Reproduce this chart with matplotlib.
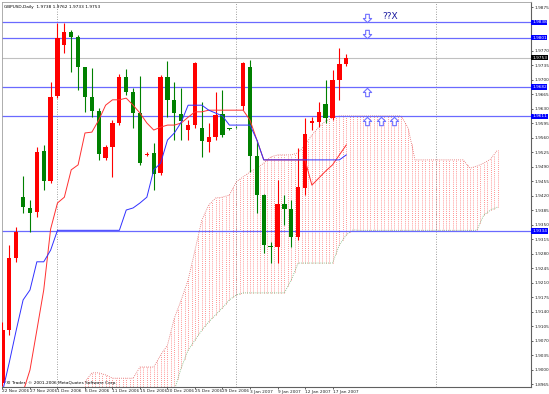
import numpy as np
import matplotlib
matplotlib.use("Agg")
import matplotlib.pyplot as plt
from matplotlib.path import Path
from matplotlib.transforms import blended_transform_factory

# ================================
# GBPUSD daily candles
# ================================
open_ = [1.8967, 1.9095, 1.9269, 1.9416, 1.9390, 1.9380, 1.9527, 1.9455, 1.9660, 1.9783,
         1.9815, 1.9803, 1.9730, 1.9658, 1.9624, 1.9510, 1.9537, 1.9595, 1.9706, 1.9670,
         1.9619, 1.9518, 1.9523, 1.9474, 1.9706, 1.9651, 1.9617, 1.9578, 1.9590, 1.9583,
         1.9549, 1.9561, 1.9617, 1.9582, 1.9586, 1.9636, 1.9730, 1.9515, 1.9421, 1.9298,
         1.9296, 1.9399, 1.9387, 1.9320, 1.9438, 1.9595, 1.9597, 1.9641, 1.9607, 1.9699, 1.9738]
high = [1.9115, 1.9301, 1.9344, 1.9467, 1.9409, 1.9537, 1.9542, 1.9694, 1.9836, 1.9836,
        1.9819, 1.9807, 1.9730, 1.9728, 1.9631, 1.9542, 1.9602, 1.9713, 1.9725, 1.9679,
        1.9708, 1.9525, 1.9547, 1.9711, 1.9745, 1.9694, 1.9679, 1.9602, 1.9742, 1.9646,
        1.9595, 1.9670, 1.9675, 1.9583, 1.9588, 1.9742, 1.9747, 1.9554, 1.9424, 1.9308,
        1.9457, 1.9421, 1.9409, 1.9535, 1.9607, 1.9609, 1.9646, 1.9699, 1.9723, 1.9776, 1.9762]
low = [1.8960, 1.9083, 1.9260, 1.9378, 1.9332, 1.9368, 1.9433, 1.9450, 1.9655, 1.9764,
       1.9718, 1.9675, 1.9622, 1.9609, 1.9506, 1.9506, 1.9465, 1.9590, 1.9663, 1.9583,
       1.9494, 1.9515, 1.9433, 1.9469, 1.9609, 1.9554, 1.9554, 1.9554, 1.9583, 1.9513,
       1.9525, 1.9554, 1.9561, 1.9578, 1.9583, 1.9626, 1.9477, 1.9378, 1.9281, 1.9257,
       1.9257, 1.9349, 1.9296, 1.9313, 1.9421, 1.9578, 1.9585, 1.9595, 1.9602, 1.9651, 1.9733]
close = [1.9095, 1.9269, 1.9332, 1.9392, 1.9378, 1.9525, 1.9455, 1.9658, 1.9800, 1.9815,
         1.9803, 1.9730, 1.9658, 1.9624, 1.9520, 1.9537, 1.9595, 1.9706, 1.9670, 1.9619,
         1.9498, 1.9520, 1.9472, 1.9706, 1.9651, 1.9619, 1.9600, 1.9590, 1.9740, 1.9552,
         1.9561, 1.9614, 1.9566, 1.9580, 1.9585, 1.9740, 1.9515, 1.9421, 1.9301, 1.9296,
         1.9399, 1.9387, 1.9320, 1.9440, 1.9568, 1.9600, 1.9622, 1.9607, 1.9699, 1.9737, 1.9753]

# Ichimoku lines
tenkan = [np.nan, np.nan, np.nan, 1.8946, 1.8999, 1.9095, 1.9192, 1.9339, 1.9402, 1.9416,
          1.9482, 1.9494, 1.9571, 1.9573, 1.9602, 1.9638, 1.9651, 1.9651, 1.9655, 1.9638,
          1.9619, 1.9595, 1.9578, 1.9585, 1.9590, 1.9590, 1.9595, 1.9609, 1.9622, 1.9622,
          1.9626, 1.9626, 1.9626, 1.9626, 1.9626, 1.9626, 1.9602, 1.9554, 1.9506, 1.9506,
          1.9506, 1.9506, 1.9506, 1.9506, 1.9506, 1.9445, 1.9462, 1.9479, 1.9494, 1.9518, 1.9542]
kijun = [1.8946, 1.9018, 1.9095, 1.9168, 1.9192, 1.9260, 1.9260, 1.9288, 1.9336, 1.9336,
         1.9336, 1.9336, 1.9336, 1.9336, 1.9336, 1.9336, 1.9336, 1.9336, 1.9385, 1.9390,
         1.9402, 1.9416, 1.9482, 1.9498, 1.9554, 1.9571, 1.9597, 1.9638, 1.9638, 1.9638,
         1.9626, 1.9619, 1.9612, 1.9590, 1.9590, 1.9590, 1.9590, 1.9554, 1.9506, 1.9506,
         1.9506, 1.9506, 1.9506, 1.9506, 1.9506, 1.9506, 1.9506, 1.9506, 1.9506, 1.9506, 1.9518]

# cloud (shifted forward), bars 12..72
cloud_start = 12
span_top = ([1.8970, 1.8992, 1.8992, 1.8987] + [1.8979] * 4 + [1.9006] * 3 +
            [1.9035, 1.9059, 1.9124, 1.9168, 1.9216, 1.9288, 1.9361, 1.9397, 1.9414, 1.9416,
             1.9421, 1.9453, 1.9465, 1.9477, 1.9486, 1.9498, 1.9513, 1.9518, 1.9518, 1.9518,
             1.9523, 1.9542, 1.9566, 1.9585, 1.9600, 1.9607] +
            [1.9612] * 10 + [1.9583] + [1.9506] * 8 +
            [1.9486, 1.9491, 1.9498, 1.9508, 1.9530])
span_bot = ([1.8938] * 13 +
            [1.8950, 1.9004, 1.9047, 1.9071, 1.9095, 1.9115, 1.9132, 1.9149, 1.9168, 1.9180] +
            [1.9185] * 7 + [1.9216, 1.9257] + [1.9257] * 5 +
            [1.9301, 1.9325, 1.9337] + [1.9336] * 18 + [1.9373, 1.9385, 1.9392])

# horizontal levels, bid, separators, markers
levels = [1.9838, 1.9801, 1.9682, 1.9611, 1.9334]
bid = 1.9753
month_starts = [8, 34, 63]
down_x = [53, 53]
down_y = [1.9849, 1.9810]
up_x = [53, 53, 55, 57]
up_y = [1.9670, 1.9600, 1.9600, 1.9600]

tick_bars = [0, 4, 8, 12, 16, 20, 24, 28, 32, 36, 40, 44, 48]
tick_labels = ["22 Nov 2006", "27 Nov 2006", "1 Dec 2006", "6 Dec 2006", "11 Dec 2006",
               "15 Dec 2006", "20 Dec 2006", "25 Dec 2006", "29 Dec 2006", "3 Jan 2007",
               "9 Jan 2007", "12 Jan 2007", "17 Jan 2007"]
price_ticks = [1.8965, 1.9000, 1.9035, 1.9070, 1.9105, 1.9140, 1.9175, 1.9210, 1.9245,
               1.9280, 1.9315, 1.9350, 1.9385, 1.9420, 1.9455, 1.9490, 1.9525, 1.9560,
               1.9595, 1.9630, 1.9665, 1.9700, 1.9735, 1.9770, 1.9805, 1.9840, 1.9875]

FS = 3.1  # tiny terminal font

# hollow block-arrow marker shapes
up_shape = Path([(-0.22, -0.5), (0.22, -0.5), (0.22, 0.0), (0.5, 0.0), (0.0, 0.5),
                 (-0.5, 0.0), (-0.22, 0.0), (-0.22, -0.5)], closed=True)
down_shape = Path([(x, -y) for x, y in up_shape.vertices], closed=True)

# ----------------------------
# Figure
# ----------------------------
fig = plt.figure(figsize=(5.49, 3.94), dpi=100)
ax = fig.add_axes([2 / 549, 7 / 394, 529 / 549, 385 / 394])
ax.set_xlim(-0.07, 76.87)
ax.set_ylim(1.89578, 1.98871)

# cloud hatch
cx = np.arange(len(span_top)) + cloud_start
hx = np.arange(cloud_start, cx[-1] + 0.01, 0.5)
ax.vlines(hx, np.interp(hx, cx, span_bot), np.interp(hx, cx, span_top),
          colors="#ff7070", linewidth=0.6, linestyles=(0, (1, 1.5)), zorder=1)
ax.plot(cx, span_top, color="#e06060", lw=0.6, ls=(0, (1, 1.5)), zorder=1)
ax.plot(cx, span_bot, color="#70b070", lw=0.6, ls=(0, (1, 1.5)), zorder=1)

# separators and levels
for b in month_starts:
    ax.axvline(b, color="#808080", lw=0.6, ls=(0, (1, 2)), zorder=1)
for lv in levels:
    ax.axhline(lv, color="#6a6aff", lw=0.9, zorder=2)
ax.axhline(bid, color="#c0c0c0", lw=0.8, zorder=2)

# candles
idx = np.arange(len(close))
o = np.array(open_)
c = np.array(close)
cols = ["#ff0000" if cc >= oo else "#008000" for oo, cc in zip(o, c)]
ax.vlines(idx, low, high, colors=cols, lw=0.8, zorder=3)
ax.bar(idx, np.maximum(np.abs(c - o), 0.00008), bottom=np.minimum(o, c),
       width=0.62, color=cols, linewidth=0, zorder=4)

# ichimoku lines
ax.plot(idx, tenkan, color="#ff3030", lw=0.7, zorder=5)
ax.plot(idx, kijun, color="#3030ff", lw=0.7, zorder=5)

# arrows and text
ax.plot(down_x, down_y, ls="none", marker=down_shape, markersize=6,
        markerfacecolor="white", markeredgecolor="#7070ff", markeredgewidth=0.8, zorder=6)
ax.plot(up_x, up_y, ls="none", marker=up_shape, markersize=6,
        markerfacecolor="white", markeredgecolor="#7070ff", markeredgewidth=0.8, zorder=6)
ax.text(55.2, 1.9851, "??X", color="#1a1aa0", fontsize=6.5, ha="left", va="center", zorder=6)

ax.text(0.004, 0.992, "GBPUSD,Daily  1.9738 1.9762 1.9733 1.9753", transform=ax.transAxes,
        fontsize=FS, va="top", ha="left")
ax.text(0.004, 0.006, "FXI Trader, \u00a9 2001-2006 MetaQuotes Software Corp.",
        transform=ax.transAxes, fontsize=FS, va="bottom", ha="left")

# axes styling
for side in ["left", "top"]:
    ax.spines[side].set_color("#a0a0a0")
    ax.spines[side].set_linewidth(0.6)
for side in ["right", "bottom"]:
    ax.spines[side].set_color("#606060")
    ax.spines[side].set_linewidth(0.8)

# tick labels hidden under a price box stay blank
hidden = set("%.4f" % p for p in price_ticks
             if min(abs(p - lv) for lv in levels + [bid]) < 0.0006)
ax.yaxis.tick_right()
ax.set_yticks(price_ticks)
ax.set_yticklabels(["" if ("%.4f" % p) in hidden else "%.4f" % p for p in price_ticks])
ax.tick_params(axis="y", labelsize=FS, length=1.5, pad=0.8, width=0.5, colors="#202020")
ax.set_xticks(tick_bars)
ax.set_xticklabels(tick_labels, ha="left")
ax.tick_params(axis="x", labelsize=FS, length=1.5, pad=0.3, width=0.5, colors="#202020")

# price boxes on the right axis
tr = blended_transform_factory(ax.transAxes, ax.transData)
for lv in levels:
    ax.text(1.002, lv, "%.4f" % lv, transform=tr, fontsize=FS, color="white",
            va="center", ha="left", clip_on=False, zorder=10,
            bbox=dict(boxstyle="square,pad=0.15", fc="#0000ff", ec="none"))
ax.text(1.002, bid, "%.4f" % bid, transform=tr, fontsize=FS, color="white",
        va="center", ha="left", clip_on=False, zorder=10,
        bbox=dict(boxstyle="square,pad=0.15", fc="#000000", ec="none"))

fig.savefig("out.png", dpi=100)
plt.close(fig)
